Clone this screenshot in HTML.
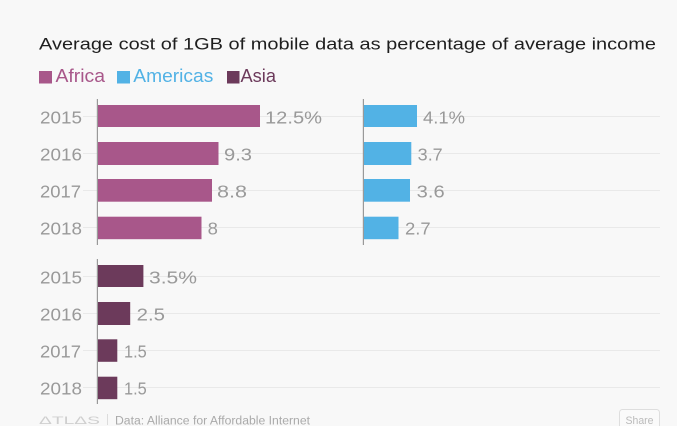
<!DOCTYPE html>
<html><head><meta charset="utf-8"><style>
html,body{margin:0;padding:0;background:#f8f8f8;}
svg{display:block;}
text{font-family:"Liberation Sans",sans-serif;}
</style></head><body>
<svg width="677" height="426" viewBox="0 0 677 426" xmlns="http://www.w3.org/2000/svg">
<rect x="0" y="0" width="677" height="426" fill="#f8f8f8"/>
<text x="39" y="49.5" font-size="17" fill="#1e1e1e" textLength="617" lengthAdjust="spacingAndGlyphs">Average cost of 1GB of mobile data as percentage of average income</text>
<rect x="39" y="71" width="13" height="12.5" fill="#a8578a"/>
<text x="55.5" y="81.8" font-size="18" fill="#a8578a" textLength="49.5" lengthAdjust="spacingAndGlyphs">Africa</text>
<rect x="117" y="71" width="13" height="12.5" fill="#52b2e5"/>
<text x="133.3" y="81.8" font-size="18" fill="#52b2e5" textLength="80" lengthAdjust="spacingAndGlyphs">Americas</text>
<rect x="227" y="71" width="12.5" height="12.5" fill="#6c3a5b"/>
<text x="240.5" y="81.8" font-size="18" fill="#6c3a5b" textLength="35.5" lengthAdjust="spacingAndGlyphs">Asia</text>

<g stroke="#e9e9e9" stroke-width="1">
<line x1="83" y1="116.5" x2="660" y2="116.5"/>
<line x1="83" y1="153.5" x2="660" y2="153.5"/>
<line x1="83" y1="190.5" x2="660" y2="190.5"/>
<line x1="83" y1="227.5" x2="660" y2="227.5"/>
<line x1="83" y1="276.5" x2="660" y2="276.5"/>
<line x1="83" y1="313.5" x2="660" y2="313.5"/>
<line x1="83" y1="350.5" x2="660" y2="350.5"/>
<line x1="83" y1="387.5" x2="660" y2="387.5"/>
</g>

<g font-size="17.5" fill="#999">
<text x="40" y="123.3" textLength="42" lengthAdjust="spacingAndGlyphs">2015</text>
<text x="40" y="160.3" textLength="42" lengthAdjust="spacingAndGlyphs">2016</text>
<text x="40" y="197.3" textLength="41" lengthAdjust="spacingAndGlyphs">2017</text>
<text x="40" y="234.3" textLength="42" lengthAdjust="spacingAndGlyphs">2018</text>
<text x="40" y="283.3" textLength="42" lengthAdjust="spacingAndGlyphs">2015</text>
<text x="40" y="320.3" textLength="42" lengthAdjust="spacingAndGlyphs">2016</text>
<text x="40" y="357.3" textLength="41" lengthAdjust="spacingAndGlyphs">2017</text>
<text x="40" y="394.3" textLength="42" lengthAdjust="spacingAndGlyphs">2018</text>
</g>

<!-- Africa -->
<g fill="#a8578a">
<rect x="98" y="105" width="162" height="22"/>
<rect x="98" y="142" width="120.5" height="23"/>
<rect x="98" y="179" width="114" height="22.7"/>
<rect x="98" y="216.7" width="103.5" height="22.5"/>
</g>
<!-- Americas -->
<g fill="#52b2e5">
<rect x="364" y="105" width="53" height="22"/>
<rect x="364" y="142" width="47.3" height="23"/>
<rect x="364" y="179" width="46" height="22.7"/>
<rect x="364" y="216.7" width="34.5" height="22.5"/>
</g>
<!-- Asia -->
<g fill="#6c3a5b">
<rect x="98" y="265" width="45.4" height="22"/>
<rect x="98" y="302" width="32.2" height="23"/>
<rect x="98" y="339.3" width="19.3" height="22.5"/>
<rect x="98" y="376.7" width="19.3" height="22.5"/>
</g>

<g stroke="#999" stroke-width="1.2">
<line x1="97.4" y1="99" x2="97.4" y2="245"/>
<line x1="363.4" y1="99" x2="363.4" y2="245"/>
<line x1="97.4" y1="259" x2="97.4" y2="404"/>
</g>

<g font-size="17.5" fill="#999">
<text x="265" y="123.3" textLength="57" lengthAdjust="spacingAndGlyphs">12.5%</text>
<text x="224" y="160.3" textLength="28" lengthAdjust="spacingAndGlyphs">9.3</text>
<text x="217" y="197.3" textLength="30" lengthAdjust="spacingAndGlyphs">8.8</text>
<text x="207.7" y="234.3" textLength="10.3" lengthAdjust="spacingAndGlyphs">8</text>
<text x="423" y="123.3" textLength="42" lengthAdjust="spacingAndGlyphs">4.1%</text>
<text x="417.7" y="160.3" textLength="25" lengthAdjust="spacingAndGlyphs">3.7</text>
<text x="416.7" y="197.3" textLength="28" lengthAdjust="spacingAndGlyphs">3.6</text>
<text x="405" y="234.3" textLength="25.7" lengthAdjust="spacingAndGlyphs">2.7</text>
<text x="149" y="283.3" textLength="48" lengthAdjust="spacingAndGlyphs">3.5%</text>
<text x="136.7" y="320.3" textLength="28.3" lengthAdjust="spacingAndGlyphs">2.5</text>
<text x="124" y="357.3" textLength="22.7" lengthAdjust="spacingAndGlyphs">1.5</text>
<text x="124" y="394.3" textLength="22.7" lengthAdjust="spacingAndGlyphs">1.5</text>
</g>

<text x="39" y="424" font-size="11" fill="#cfcfcf" textLength="61" lengthAdjust="spacingAndGlyphs">ΔTLΔS</text>
<line x1="107.5" y1="414" x2="107.5" y2="425" stroke="#dcdcdc" stroke-width="1"/>
<text x="115" y="424.5" font-size="11.5" fill="#aaa" textLength="195" lengthAdjust="spacingAndGlyphs">Data:  Alliance for Affordable Internet</text>

<rect x="619.5" y="409.5" width="40" height="21" rx="3" fill="#fafafa" stroke="#dedede"/>
<text x="625.5" y="424" font-size="11" fill="#bbb" textLength="28" lengthAdjust="spacingAndGlyphs">Share</text>
</svg>
</body></html>
